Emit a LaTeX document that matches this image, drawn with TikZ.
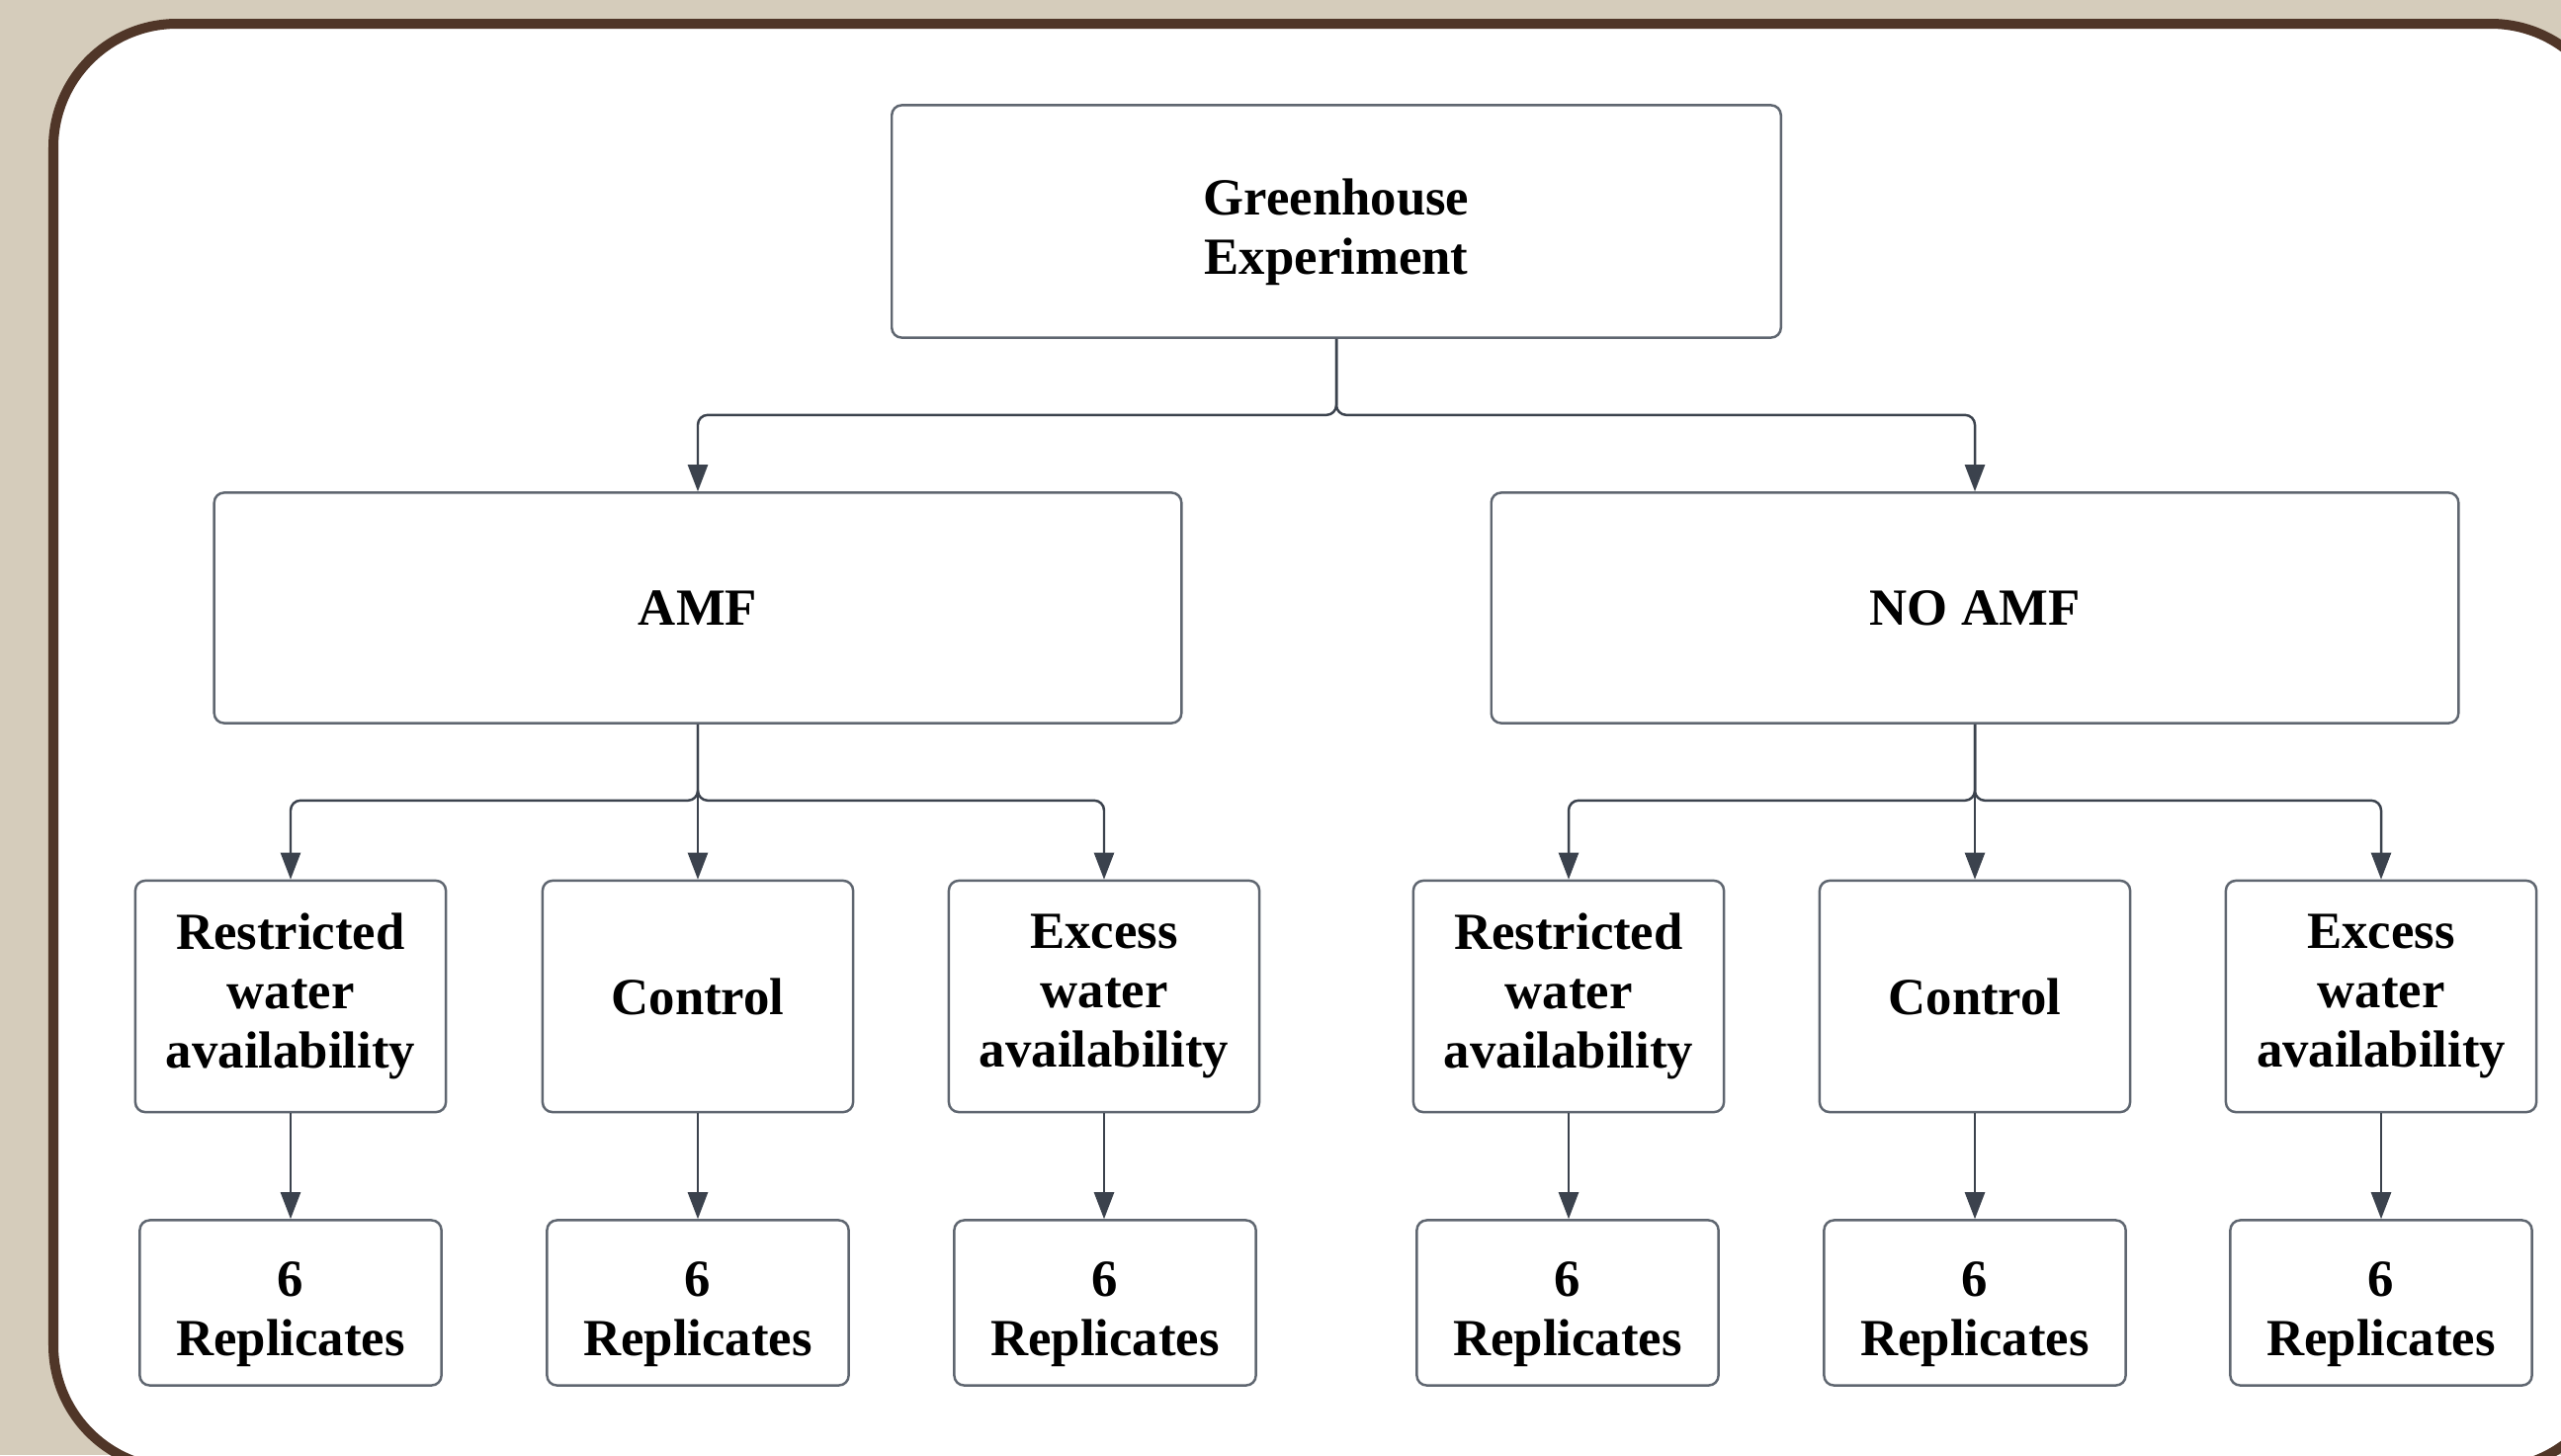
\documentclass[tikz,border=0pt]{standalone}
\usepackage{fontspec}
\setmainfont{Liberation Serif}
\usetikzlibrary{arrows.meta}
\definecolor{bgc}{HTML}{D5CCBB}
\definecolor{framec}{HTML}{503628}
\definecolor{boxline}{HTML}{5F6670}
\definecolor{arrowc}{HTML}{3B424D}
\newcommand{\twolines}[2]{\begin{tabular}{@{}c@{}}\rule{0pt}{18.6pt}#1\\#2\end{tabular}}
\begin{document}
\begin{tikzpicture}[x=0.01cm,y=-0.01cm,
  box/.style={draw=boxline, line width=0.7pt, rounded corners=0.1cm, fill=white, align=center,
    font=\fontsize{15}{17.1}\selectfont\bfseries, inner sep=0pt},
  bigbox/.style={box, minimum width=8.99cm, minimum height=2.35cm},
  midbox/.style={box, minimum width=9.78cm, minimum height=2.33cm},
  condbox/.style={box, minimum width=3.14cm, minimum height=2.34cm},
  repbox/.style={box, minimum width=3.05cm, minimum height=1.67cm},
  link/.style={draw=arrowc, line width=0.7pt, rounded corners=0.1cm,
    -{Triangle[length=0.27cm,width=0.2cm]}}
]
\useasboundingbox[fill=bgc] (0,0) rectangle (2591,1472);
\begin{scope}
\clip (0,0) rectangle (2591,1472);
\draw[draw=framec, line width=0.1cm, fill=white, rounded corners=1.25cm] (54,24) rectangle (2645,1486);
\end{scope}

\node[bigbox] (root) at (1352,224) {\twolines{Greenhouse}{Experiment}};
\node[midbox] (amf) at (706,615) {AMF};
\node[midbox] (noamf) at (1998,615) {NO AMF};

\node[condbox] (c1) at (294,1008) {Restricted\\water\\availability};
\node[condbox] (c2) at (706,1008) {Control};
\node[condbox] (c3) at (1117,1008) {Excess\\water\\availability};
\node[condbox] (c4) at (1587,1008) {Restricted\\water\\availability};
\node[condbox] (c5) at (1998,1008) {Control};
\node[condbox] (c6) at (2409,1008) {Excess\\water\\availability};

\node[repbox] (r1) at (294,1318) {\twolines{6}{Replicates}};
\node[repbox] (r2) at (706,1318) {\twolines{6}{Replicates}};
\node[repbox] (r3) at (1118,1318) {\twolines{6}{Replicates}};
\node[repbox] (r4) at (1586,1318) {\twolines{6}{Replicates}};
\node[repbox] (r5) at (1998,1318) {\twolines{6}{Replicates}};
\node[repbox] (r6) at (2409,1318) {\twolines{6}{Replicates}};

\draw[link] (root.south) -- ++(0,77) -| (amf.north);
\draw[link] (root.south) -- ++(0,77) -| (noamf.north);

\draw[link] (amf.south) -- ++(0,77) -| (c1.north);
\draw[link] (amf.south) -- (c2.north);
\draw[link] (amf.south) -- ++(0,77) -| (c3.north);
\draw[link] (noamf.south) -- ++(0,77) -| (c4.north);
\draw[link] (noamf.south) -- (c5.north);
\draw[link] (noamf.south) -- ++(0,77) -| (c6.north);

\draw[link] (c1.south) -- (c1.south |- r1.north);
\draw[link] (c2.south) -- (c2.south |- r2.north);
\draw[link] (c3.south) -- (c3.south |- r3.north);
\draw[link] (c4.south) -- (c4.south |- r4.north);
\draw[link] (c5.south) -- (c5.south |- r5.north);
\draw[link] (c6.south) -- (c6.south |- r6.north);
\end{tikzpicture}
\end{document}
